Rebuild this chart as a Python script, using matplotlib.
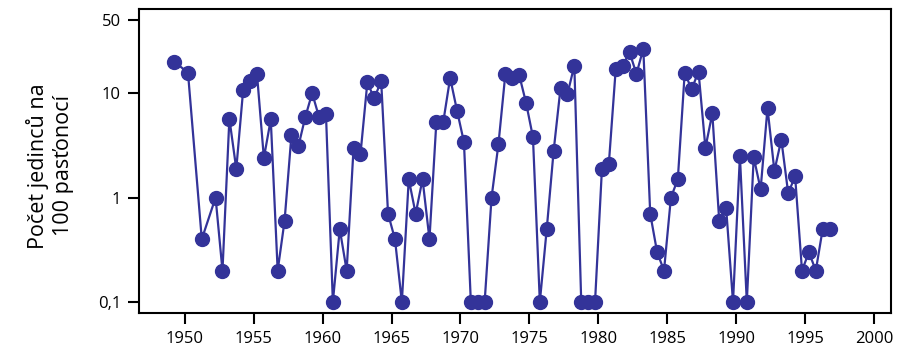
import matplotlib
matplotlib.use("Agg")
import matplotlib.pyplot as plt
from matplotlib.ticker import FixedLocator, FixedFormatter, NullLocator

# time points (year, semi-annual samples)
years = [1949.25, 1950.25, 1951.25, 1952.25, 1952.75,
         1953.25, 1953.75, 1954.25, 1954.75, 1955.25, 1955.75,
         1956.25, 1956.75, 1957.25, 1957.75, 1958.25, 1958.75,
         1959.25, 1959.75, 1960.25, 1960.75, 1961.25, 1961.75,
         1962.25, 1962.75, 1963.25, 1963.75, 1964.25, 1964.75,
         1965.25, 1965.75, 1966.25, 1966.75, 1967.25, 1967.75,
         1968.25, 1968.75, 1969.25, 1969.75, 1970.25, 1970.75,
         1971.25, 1971.75, 1972.25, 1972.75, 1973.25, 1973.75,
         1974.25, 1974.75, 1975.25, 1975.75, 1976.25, 1976.75,
         1977.25, 1977.75, 1978.25, 1978.75, 1979.25, 1979.75,
         1980.25, 1980.75, 1981.25, 1981.75, 1982.25, 1982.75,
         1983.25, 1983.75, 1984.25, 1984.75, 1985.25, 1985.75,
         1986.25, 1986.75, 1987.25, 1987.75, 1988.25, 1988.75,
         1989.25, 1989.75, 1990.25, 1990.75, 1991.25, 1991.75,
         1992.25, 1992.75, 1993.25, 1993.75, 1994.25, 1994.75,
         1995.25, 1995.75, 1996.25, 1996.75]

# individuals per 100 trap-nights
counts = [20.1, 15.7, 0.40, 1.0, 0.2,
          5.7, 1.88, 10.8, 13.1, 15.3, 2.4,
          5.6, 0.2, 0.60, 4.0, 3.1, 5.9,
          10.0, 5.9, 6.3, 0.1, 0.5, 0.2,
          3.0, 2.6, 12.7, 8.9, 13.1, 0.7,
          0.40, 0.1, 1.5, 0.7, 1.5, 0.4,
          5.3, 5.3, 14.0, 6.8, 3.4, 0.1,
          0.1, 0.1, 1.0, 3.25, 15.2, 13.9,
          15.0, 8.1, 3.8, 0.1, 0.5, 2.8,
          11.2, 9.8, 18.4, 0.1, 0.1, 0.1,
          1.88, 2.1, 17.0, 18.3, 24.7, 15.3,
          26.6, 0.7, 0.30, 0.2, 1.0, 1.5,
          15.7, 10.9, 16.1, 3.0, 6.4, 0.6,
          0.80, 0.1, 2.5, 0.1, 2.44, 1.2,
          7.2, 1.8, 3.6, 1.1, 1.6, 0.2,
          0.3, 0.2, 0.5, 0.5]

x_ticks = [1950, 1955, 1960, 1965, 1970, 1975, 1980, 1985, 1990, 1995, 2000]
y_ticks = [0.1, 1, 10, 50]
y_tick_labels = ["0,1", "1", "10", "50"]
y_label = "Počet jedinců na\n100 pasťonocí"

plt.rcParams['font.family'] = ['Open Sans', 'DejaVu Sans']

fig = plt.figure(figsize=(9.02, 3.47), dpi=100)
ax = fig.add_axes([139/902, 1 - 313/347, (891-139)/902, (313-9)/347])

color = "#333399"
ax.plot(years, counts, color=color, linewidth=1.6, marker='o',
        markersize=10, markerfacecolor=color, markeredgecolor=color, zorder=3)

ax.set_yscale('log')
ax.set_ylim(0.0785, 64)
ax.set_xlim(1946.7, 2001.2)

ax.yaxis.set_major_locator(FixedLocator(y_ticks))
ax.yaxis.set_major_formatter(FixedFormatter(y_tick_labels))
ax.yaxis.set_minor_locator(NullLocator())
ax.set_xticks(x_ticks)
ax.set_xticklabels([str(t) for t in x_ticks])

for s in ax.spines.values():
    s.set_linewidth(1.5)
ax.tick_params(axis='both', direction='out', length=8, width=1.5,
               labelsize=12, pad=5)

fig.text(50/902, 1 - 166/347, y_label, rotation=90, ha='center', va='center',
         multialignment='center', fontsize=15.5)

fig.savefig("out.png", dpi=100)
